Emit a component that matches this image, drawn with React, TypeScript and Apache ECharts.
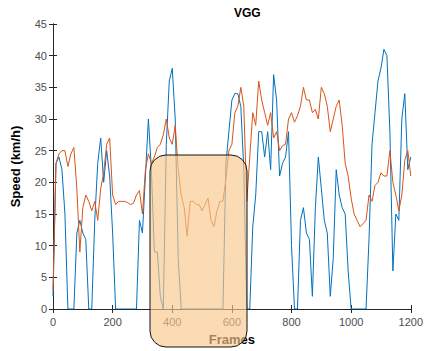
import React, { useEffect, useRef } from "react";
import * as echarts from "echarts";

// Frame index of each sample (every 10 frames)
const frames: number[] = Array.from({ length: 121 }, (_, i) => i * 10);

// Speed estimates (km/h), blue series
const blueSpeed: number[] = [
  2, 23, 24, 22, 15, 0, 0, 0, 12, 14,
  12, 11, 0, 0, 14, 23, 27, 20, 25, 21,
  12, 0, 0, 0, 0, 0, 0, 0, 0, 14,
  12, 21, 30, 22, 9, 9, 2, 0, 26, 36,
  38, 30, 8, 0, 0, 0, 0, 0, 0, 0,
  0, 0, 0, 0, 0, 0, 0, 0, 23, 28,
  33, 34, 34, 32, 22, 0, 0, 13, 18, 28,
  28, 24, 28, 22, 37, 33, 21, 23, 24, 28,
  10, 0, 0, 14, 16, 12, 11, 2, 16, 24,
  19, 14, 12, 2, 8, 22, 18, 16, 15, 6,
  0, 0, 0, 0, 0, 0, 11, 26, 31, 36,
  38, 41, 40, 28, 6, 15, 14, 30, 34, 22,
  24,
];

// Speed estimates (km/h), orange series
const orangeSpeed: number[] = [
  3, 23, 24.5, 25, 25, 22.5, 24.5, 25.5, 19, 9,
  16, 18, 17, 15.5, 17, 14, 19, 21.5, 26, 27,
  18, 16.5, 17, 17, 17, 16.8, 16.5, 16.7, 18, 18.7,
  15, 22, 24.5, 23, 24, 25.5, 26, 27.5, 30, 27,
  26, 29, 22, 18, 16, 11.5, 17, 17, 16.5, 16.5,
  15.5, 16.5, 17.5, 14, 13, 15.5, 17, 17, 20.5, 25,
  26, 31, 32, 35, 32, 17, 24, 31, 29, 36,
  33, 31, 29, 31, 27, 28, 25, 25.8, 26, 30,
  31, 29.5, 30.5, 32, 35, 33, 33, 31, 31.5, 30,
  35, 34, 32, 28, 30, 32, 33, 29, 23, 21,
  17.5, 15, 14, 13, 13.5, 14, 18, 17, 19.5, 20,
  21.5, 21, 21, 25, 20, 18, 15.5, 18, 23.5, 25,
  21,
];

const titleText = "VGG";
const xName = "Frames";
const yName = "Speed (km/h)";

export default function App() {
  const ref = useRef<HTMLDivElement>(null);

  useEffect(() => {
    if (!ref.current) return;
    const chart = echarts.init(ref.current, null, { renderer: "svg" });
    const axisColor = "#262626";
    const labelColor = "#4d4d4d";
    const font = "'Liberation Sans', Arial, Helvetica, sans-serif";
    const plain = (v: number) => String(v);
    const baseX = {
      type: "value" as const,
      min: 0,
      max: 1200,
      interval: 200,
      splitLine: { show: false },
      axisLine: { show: true, lineStyle: { color: axisColor, width: 1 } },
      axisTick: { show: true, inside: true, length: 4, lineStyle: { color: axisColor } },
    };
    const baseY = {
      type: "value" as const,
      min: 0,
      max: 45,
      interval: 5,
      splitLine: { show: false },
      axisLine: { show: true, lineStyle: { color: axisColor, width: 1 } },
      axisTick: { show: true, inside: true, length: 4, lineStyle: { color: axisColor } },
    };
    chart.setOption({
      animation: false,
      backgroundColor: "#ffffff",
      textStyle: { fontFamily: font },
      grid: { left: 53, right: 11, top: 24, bottom: 40, containLabel: false },
      xAxis: [
        {
          ...baseX,
          position: "bottom",
          axisLabel: { color: labelColor, fontSize: 11, margin: 7, fontFamily: font, formatter: plain },
          name: xName,
          nameLocation: "middle",
          nameGap: 24,
          nameTextStyle: { color: "#000", fontSize: 13, fontWeight: "bold", fontFamily: font },
        },
        { ...baseX, position: "top", axisLabel: { show: false } },
      ],
      yAxis: [
        {
          ...baseY,
          position: "left",
          axisLabel: { color: labelColor, fontSize: 11, margin: 6, fontFamily: font, formatter: plain },
          name: yName,
          nameLocation: "middle",
          nameGap: 31,
          nameTextStyle: { color: "#000", fontSize: 13, fontWeight: "bold", fontFamily: font },
        },
        { ...baseY, position: "right", axisLabel: { show: false } },
      ],
      series: [
        {
          type: "line",
          xAxisIndex: 0,
          yAxisIndex: 0,
          showSymbol: false,
          data: frames.map((f, i) => [f, blueSpeed[i]]),
          lineStyle: { color: "#0072BD", width: 1 },
          itemStyle: { color: "#0072BD" },
          z: 2,
        },
        {
          type: "line",
          xAxisIndex: 0,
          yAxisIndex: 0,
          showSymbol: false,
          data: frames.map((f, i) => [f, orangeSpeed[i]]),
          lineStyle: { color: "#D95319", width: 1 },
          itemStyle: { color: "#D95319" },
          z: 3,
        },
      ],
      graphic: [
        {
          type: "text",
          left: 234,
          top: 7,
          z: 50,
          style: {
            text: titleText,
            x: 0,
            fill: "#000",
            font: `bold 12px ${font}`,
            textAlign: "center",
          },
        },
        {
          type: "rect",
          z: 100,
          shape: { x: 150, y: 155, width: 97, height: 192, r: 16 },
          style: { fill: "rgba(249,200,140,0.65)", stroke: "#111", lineWidth: 1 },
        },
      ],
    });
    return () => chart.dispose();
  }, []);

  return (
    <div
      ref={ref}
      style={{ position: "fixed", left: 0, top: 0, width: 426, height: 351 }}
    />
  );
}
